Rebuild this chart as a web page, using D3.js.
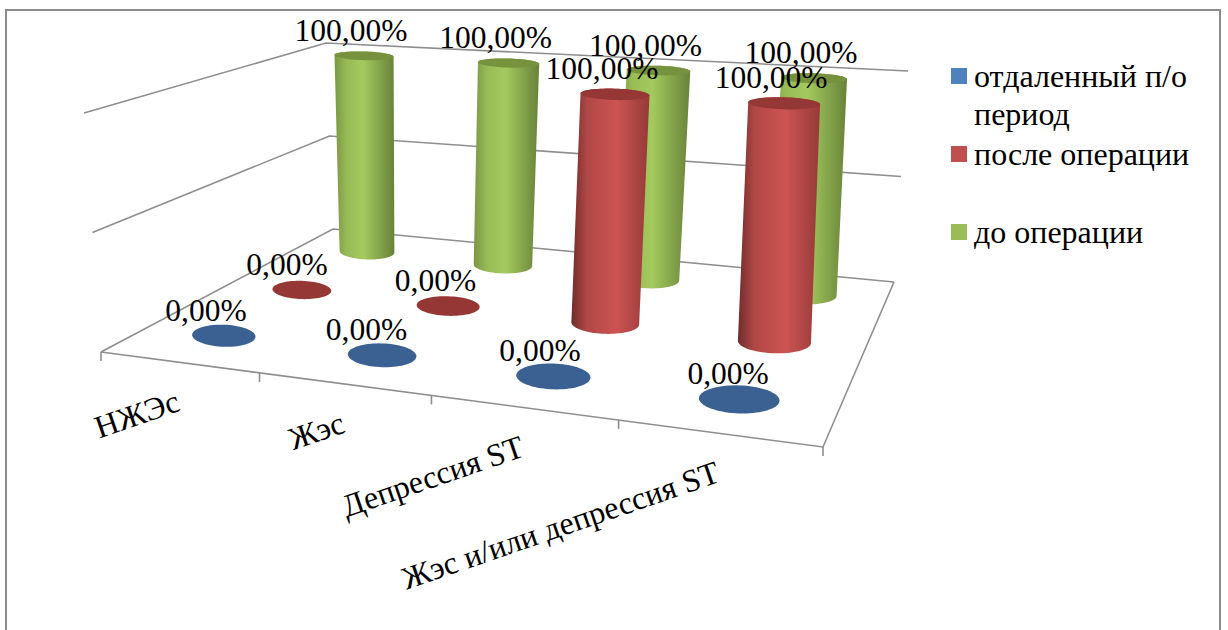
<!DOCTYPE html>
<html>
<head>
<meta charset="utf-8">
<script src="https://d3js.org/d3.v7.min.js"></script>
<style>
    html, body { margin: 0; padding: 0; background: #fff; }
    text { font-family: "Liberation Serif", serif; fill: #000; }
</style>
</head>
<body>
<div id="chart"></div>
<script>
const categories = ["НЖЭс", "Жэс", "Депрессия ST", "Жэс и/или депрессия ST"];
const seriesNames = ["отдаленный п/о период", "после операции", "до операции"];
const remoteValues = [0, 0, 0, 0];
const afterValues = [0, 0, 1, 1];
const beforeValues = [1, 1, 1, 1];
const gridValues = [0, 0.5, 1];

const width = 1228, height = 630;

const svg = d3.select("#chart").append("svg")
    .attr("width", width)
    .attr("height", height)
    .style("display", "block");

// Outer frame, open at the bottom
svg.append("path")
    .attr("d", `M6,${height}V10H1220V${height}`)
    .attr("fill", "none")
    .attr("stroke", "#8c8c8c")
    .attr("stroke-width", 2);

// Maps the unit square onto a quad (p00, p10, p11, p01)
function quadMap([x0, y0], [x1, y1], [x2, y2], [x3, y3]) {
    const dx1 = x1 - x2, dx2 = x3 - x2, sx = x0 - x1 + x2 - x3;
    const dy1 = y1 - y2, dy2 = y3 - y2, sy = y0 - y1 + y2 - y3;
    const den = dx1 * dy2 - dx2 * dy1;
    const g = (sx * dy2 - dx2 * sy) / den;
    const h = (dx1 * sy - sx * dy1) / den;
    const a = x1 - x0 + g * x1, b = x3 - x0 + h * x3;
    const d = y1 - y0 + g * y1, e = y3 - y0 + h * y3;
    return (u, s) => {
        const w = g * u + h * s + 1;
        return [(a * u + b * s + x0) / w, (d * u + e * s + y0) / w];
    };
}

// Floor and ceiling of the 3D box; the cylinders rise a little more upright than the walls
const floorMap = quadMap([101, 352], [823, 447], [894, 282], [333, 229]);
const wallTopMap = quadMap([84, 113], [832, 157], [908, 71], [326, 43]);
const barTopMap = quadMap([84, 113], [828, 157], [904, 71], [326, 43]);

const xScale = d3.scaleBand().domain(categories).range([0, 1]);
const zScale = d3.scaleBand().domain(seriesNames).range([0, 1]);
const yScale = d3.scaleLinear().domain([0, 1]).range([0, 1]);

function projectOn(topMap, u, s, value) {
    const t = yScale(value);
    const a = floorMap(u, s), b = topMap(u, s);
    return [a[0] + (b[0] - a[0]) * t, a[1] + (b[1] - a[1]) * t];
}
const project = (u, s, value) => projectOn(barTopMap, u, s, value);
const projectWall = (u, s, value) => projectOn(wallTopMap, u, s, value);

const xMid = d => xScale(d) + xScale.bandwidth() / 2;
const zMid = d => zScale(d) + zScale.bandwidth() / 2;

// Gridlines on the left and back walls
const grid = svg.append("g")
    .attr("fill", "none")
    .attr("stroke", "#8e8e8e")
    .attr("stroke-width", 1.6);

gridValues.forEach(v => {
    grid.append("path")
        .attr("d", d3.line()([projectWall(0, 0, v), projectWall(0, 1, v), projectWall(1, 1, v)]));
});

// Floor front and right edges with tick marks
grid.append("path")
    .attr("d", d3.line()([project(0, 0, 0), project(1, 0, 0), project(1, 1, 0)]));

d3.range(categories.length + 1).forEach(i => {
    const [tx, ty] = project(i / categories.length, 0, 0);
    grid.append("line")
        .attr("x1", tx).attr("y1", ty)
        .attr("x2", tx).attr("y2", ty + 9);
});

const palette = [
    { flat: "#3a6192", legend: "#4f81bd", dark: "#3a6192", light: "#4f81bd", edge: "#3a6192", peak: 0.5 },
    { flat: "#953735", legend: "#c0504d", dark: "#702c2b", light: "#cc5452", edge: "#953a39", peak: 0.58 },
    { flat: "#76923c", legend: "#9bbb59", dark: "#7a9644", light: "#a4ca5e", edge: "#688239", peak: 0.48 }
];

// Horizontal shading of the cylinder sides
const defs = svg.append("defs");
palette.forEach((p, i) => {
    const grad = defs.append("linearGradient").attr("id", `side${i}`);
    grad.append("stop").attr("offset", 0).attr("stop-color", p.dark);
    grad.append("stop").attr("offset", 0.2).attr("stop-color", d3.interpolateRgb(p.dark, p.light)(0.7));
    grad.append("stop").attr("offset", p.peak).attr("stop-color", p.light);
    grad.append("stop").attr("offset", 1).attr("stop-color", p.edge);
});

const radiusU = 0.052, radiusS = 0.073, tilt = 0.03;

// Outline of a disc at a point of the box: nearly level, sized by the local perspective
function ring(u, s, value) {
    const [cx, cy] = project(u, s, value);
    const rx = (project(u + radiusU, s, value)[0] - project(u - radiusU, s, value)[0]) / 2;
    const ry = (project(u, s - radiusS, value)[1] - project(u, s + radiusS, value)[1]) / 2;
    return d3.range(0, 2 * Math.PI, Math.PI / 36).map(t => [
        cx + rx * Math.cos(t),
        cy + ry * Math.sin(t) + tilt * rx * Math.cos(t)
    ]);
}

const allValues = [remoteValues, afterValues, beforeValues];
const labelFormat = d3.formatLocale({ decimal: ",", thousands: " ", grouping: [3], currency: ["", ""] }).format(".2%");
const closed = d3.line().curve(d3.curveLinearClosed);

const marks = svg.append("g");
const labels = svg.append("g")
    .style("font-size", "31.5px")
    .attr("text-anchor", "middle");

// Back series first, so the nearer ones cover it
d3.range(seriesNames.length - 1, -1, -1).forEach(si => {
    const s = zMid(seriesNames[si]);
    categories.forEach((cat, ci) => {
        const u = xMid(cat);
        const value = allValues[si][ci];
        if (value > 0) {
            const base = ring(u, s, 0), top = ring(u, s, value);
            marks.append("path")
                .attr("d", closed(d3.polygonHull(base.concat(top))))
                .attr("fill", `url(#side${si})`);
            marks.append("path")
                .attr("d", closed(top))
                .attr("fill", palette[si].flat);
        } else {
            marks.append("path")
                .attr("d", closed(ring(u, s, 0)))
                .attr("fill", palette[si].flat);
        }
        const [lx, ly] = project(u, s, value);
        labels.append("text")
            .attr("x", lx + (value > 0 ? -13 : -19 + 9 * u + si * 3))
            .attr("y", ly - 15)
            .text(labelFormat(value));
    });
});

// Category labels under the front edge
categories.forEach(cat => {
    const [ax, ay] = project(xMid(cat), 0, 0);
    svg.append("text")
        .attr("transform", `translate(${ax + 3},${ay + 48}) rotate(-19)`)
        .attr("text-anchor", "end")
        .style("font-size", "32px")
        .text(cat);
});

// Legend
const legendRows = [
    { lines: ["отдаленный п/о", "период"], y: 87 },
    { lines: ["после операции"], y: 165 },
    { lines: ["до операции"], y: 243 }
];
const legend = svg.append("g");
legendRows.forEach((row, i) => {
    legend.append("rect")
        .attr("x", 951)
        .attr("y", row.y - 19)
        .attr("width", 16)
        .attr("height", 16)
        .attr("fill", palette[i].legend);
    row.lines.forEach((line, k) => {
        legend.append("text")
            .attr("x", 974)
            .attr("y", row.y + k * 38)
            .style("font-size", "32px")
            .text(line);
    });
});
</script>
</body>
</html>
